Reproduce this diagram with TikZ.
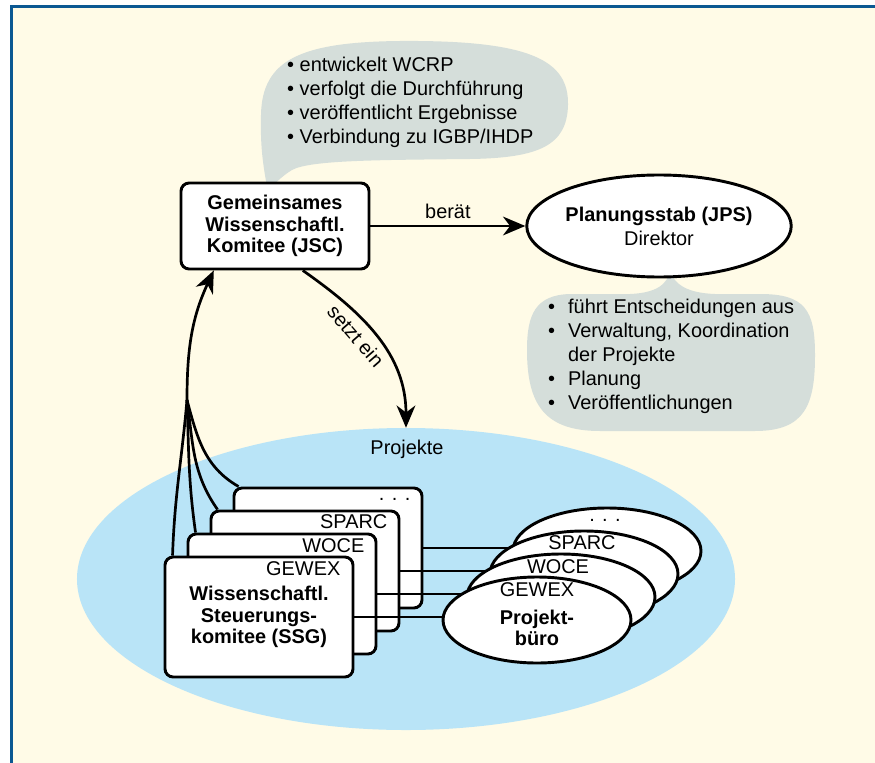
\documentclass[tikz,border=0pt]{standalone}
\usepackage{fontspec}
\setmainfont{Liberation Sans}
\usetikzlibrary{arrows.meta,calc,shapes.geometric,positioning}
\definecolor{creme}{RGB}{255,251,231}
\definecolor{rahmenblau}{RGB}{11,88,146}
\definecolor{blasengrau}{RGB}{213,222,218}
\definecolor{projektblau}{RGB}{185,228,247}
\newcommand{\punkt}{\makebox[17pt][l]{•}}
\begin{document}
\begin{tikzpicture}[x=0.03cm, y=-0.03cm,
                schrift/.style={font=\fontsize{17}{20.5}\selectfont},
                fett/.style={font=\fontsize{17}{18.3}\selectfont\bfseries},
                kasten/.style={draw, fill=white, line width=2.5pt, rounded corners=7pt, inner sep=0pt,
                        align=center, fett, minimum width=5.64cm, minimum height=3.6cm},
                oval/.style={draw, fill=white, ellipse, line width=2.5pt, inner sep=0pt,
                        minimum width=5.64cm, minimum height=2.58cm},
                linie/.style={line width=2.3pt},
                pfeil/.style={line width=2.3pt, -{Stealth[length=19pt, width=16pt, inset=6pt]}},
                blase/.style={fill=blasengrau}]
                \useasboundingbox (0,0) rectangle (875,763);
                \fill[white] (0,0) rectangle (875,763);
                \fill[creme] (10,5) rectangle (875,763);
                \draw[rahmenblau, line width=2.6pt] (11.5,763) -- (11.5,6.5) -- (875,6.5);

                \fill[blase] (268,192) .. controls (264,170) and (260,150) .. (261,115)
                        .. controls (262,60) and (300,42) .. (400,41)
                        .. controls (530,40) and (569,60) .. (568,105)
                        .. controls (567,145) and (540,158) .. (470,159)
                        .. controls (380,160) and (310,160) .. (292,170)
                        .. controls (282,176) and (274,184) .. (268,192) -- cycle;
                \fill[blase] (670,270) .. controls (668,285) and (655,293) .. (630,294)
                        -- (570,294) .. controls (535,295) and (527,315) .. (527,350)
                        .. controls (527,405) and (545,431) .. (600,431)
                        -- (755,431) .. controls (805,431) and (815,405) .. (815,355)
                        .. controls (815,310) and (805,294) .. (760,294)
                        -- (715,294) .. controls (688,293) and (674,285) .. (670,270) -- cycle;
                \node[schrift, align=left, anchor=west, inner sep=0pt] (jscaufgaben) at (287,102)
                        {• entwickelt WCRP\\• verfolgt die Durchführung\\• veröffentlicht Ergebnisse\\• Verbindung zu IGBP/IHDP};
                \node[schrift, align=left, anchor=west, inner sep=0pt] (jpsaufgaben) at (548,356)
                        {\punkt führt Entscheidungen aus\\\punkt Verwaltung, Koordination\\\makebox[17pt]{}der Projekte\\\punkt Planung\\\punkt Veröffentlichungen};

                \node[ellipse, fill=projektblau, inner sep=0pt, minimum width=19.74cm, minimum height=9.06cm] (proj) at (406,579) {};
                \node[schrift] (projtext) at ($(proj.north)+(1,22)$) {Projekte};

                \node[kasten, minimum height=2.58cm] (jsc) at (275,226) {Gemeinsames\\Wissenschaftl.\\Komitee (JSC)};
                \node[oval, schrift, align=center, minimum width=6.84cm, minimum height=3.06cm] (jps) at (659,226)
                        {\textbf{Planungsstab (JPS)}\\Direktor};
                \draw[pfeil] (jsc) -- node[schrift, above=2pt] (beraet) {berät} (jps);
                \draw[pfeil] (jsc.-58) to[out=-35, in=90] node[schrift, sloped, below, pos=0.42, inner sep=6pt] (setzt) {setzt ein} (proj.north);

                \node[kasten] (b4) at (328,548) {};
                \node[schrift, anchor=east] (b4text) at ($(b4.north east)+(-9,13)$) {. . .};
                \node[oval] (e4) at (607,551) {};
                \node[schrift] (e4text) at ($(e4.center)+(-2,-31)$) {. . .};
                \draw[linie] (b4.east) -- (b4.east -| e4.west);

                \node[kasten] (b3) at (305,571) {};
                \node[schrift, anchor=east] (b3text) at ($(b3.north east)+(-9,12)$) {SPARC};
                \node[oval] (e3) at (584,574) {};
                \node[schrift] (e3text) at ($(e3.center)+(-2,-31)$) {SPARC};
                \draw[linie] (b3.east) -- (b3.east -| e3.west);

                \node[kasten] (b2) at (282,594) {};
                \node[schrift, anchor=east] (b2text) at ($(b2.north east)+(-9,13)$) {WOCE};
                \node[oval] (e2) at (561,597) {};
                \node[schrift] (e2text) at ($(e2.center)+(-3,-30)$) {WOCE};
                \draw[linie] (b2.east) -- (b2.east -| e2.west);

                \node[kasten] (b1) at (259,617) {Wissenschaftl.\\Steuerungs-\\komitee (SSG)};
                \node[schrift, anchor=east] (b1text) at ($(b1.north east)+(-10,13)$) {GEWEX};
                \node[oval] (e1) at (537,620) {};
                \node[schrift] (e1text) at ($(e1.center)+(0,-30)$) {GEWEX};
                \node[fett, align=center] (buero) at ($(e1.center)+(0,8)$) {Projekt-\\büro};
                \draw[linie] (b1.east) -- (b1.east -| e1.west);

                \coordinate (buendel) at (187,400);
                \draw[linie] ($(b1.north west)+(9,0)$) to[out=88, in=-95] (buendel);
                \draw[linie] ($(b2.north west)+(9,0)$) to[out=98, in=-88] (buendel);
                \draw[linie] ($(b3.north west)+(8,0)$) to[out=125, in=-82] (buendel);
                \draw[linie] ($(b4.north west)+(6,0)$) to[out=150, in=-75] (buendel);
                \draw[pfeil] (buendel) to[out=90, in=245] (jsc.216);
            \end{tikzpicture}
\end{document}
